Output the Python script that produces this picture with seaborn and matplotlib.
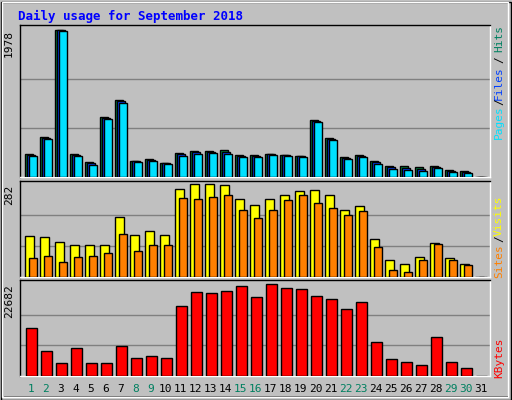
import numpy as np
import pandas as pd
import matplotlib
matplotlib.use("Agg")
import matplotlib.pyplot as plt
import seaborn as sns
from matplotlib.patches import Rectangle

days = list(range(1, 32))
hits = [313, 541, 1978, 313, 206, 810, 1038, 219, 246, 192, 327, 354, 354, 367, 300, 300,
        313, 300, 286, 761, 519, 273, 300, 219, 152, 152, 139, 152, 98, 85, 0]
files = [300, 528, 1970, 300, 186, 796, 1018, 212, 232, 186, 306, 333, 340, 340, 286, 286,
         306, 293, 280, 752, 510, 260, 286, 199, 132, 125, 112, 139, 85, 72, 0]
pages = [286, 515, 1965, 286, 166, 783, 998, 206, 219, 179, 286, 313, 327, 313, 273, 273,
         300, 286, 273, 743, 501, 246, 273, 179, 112, 98, 85, 125, 72, 58, 0]
visits = [126, 123, 108, 96, 96, 96, 184, 129, 141, 129, 267, 282, 282, 279, 236, 218,
          236, 251, 261, 264, 248, 203, 215, 117, 53, 41, 62, 102, 59, 41, 0]
sites = [59, 65, 47, 62, 65, 74, 132, 80, 96, 96, 239, 236, 242, 248, 203, 178,
         203, 233, 251, 224, 209, 190, 200, 90, 22, 16, 53, 99, 53, 35, 0]
kbytes = [11755, 6292, 3311, 7036, 3311, 3311, 7533, 4553, 5050, 4553, 17219, 20696,
          20448, 20945, 22186, 19455, 22682, 21690, 21441, 19703, 18958, 16474, 18213,
          8527, 4305, 3560, 2815, 9769, 3560, 2070, 0]
weekend = [1, 2, 8, 9, 15, 16, 22, 23, 29, 30]

sns.set_style("white")
plt.rcParams['font.family'] = ['DejaVu Sans Mono']

BG = "#C0C0C0"
W, H = 512, 400
fig = plt.figure(figsize=(5.12, 4.0), dpi=100, facecolor=BG)

def mkax(top, bottom):
    ax = fig.add_axes([20 / W, 1 - bottom / H, 470 / W, (bottom - top) / H])
    ax.set_facecolor(BG)
    return ax

idx = np.arange(31)
XL = (-0.353, 30.98)

def bars(ax, vals, off, width, color):
    df = pd.DataFrame({"x": idx + off + width / 2, "y": vals})
    sns.barplot(data=df, x="x", y="y", native_scale=True, width=width, color=color,
                edgecolor="black", linewidth=1, saturation=1, ax=ax, zorder=3)

def finish(ax, top, maxv, label):
    ax.set_xlim(*XL)
    ax.set_ylim(0, top)
    ax.set_yticks([maxv / 3, 2 * maxv / 3])
    ax.set_yticklabels([])
    ax.set_xticks([])
    ax.set_xlabel("")
    ax.set_ylabel("")
    ax.grid(axis="y", color="#808080", linewidth=1, zorder=0)
    ax.tick_params(length=0)
    for s in ["top", "left"]:
        ax.spines[s].set_color("black")
    for s in ["bottom", "right"]:
        ax.spines[s].set_color("white")
    for s in ax.spines.values():
        s.set_linewidth(1)
    ax.text(-0.013, maxv, label, transform=ax.get_yaxis_transform(), rotation=90,
            ha="right", va="top", fontsize=8, color="black")

ax1 = mkax(25, 177)
bars(ax1, hits, 0.0, 0.5, "#008040")
bars(ax1, files, 0.13, 0.5, "#0040FF")
bars(ax1, pages, 0.27, 0.5, "#00E0FF")
finish(ax1, 2040, 1978, "1978")

ax2 = mkax(180.7, 277)
bars(ax2, visits, 0.0, 0.58, "#FFFF00")
bars(ax2, sites, 0.25, 0.53, "#FF8000")
finish(ax2, 293, 282, "282")

ax3 = mkax(280.3, 376)
bars(ax3, kbytes, 0.07, 0.69, "#FF0000")
finish(ax3, 23675, 22682, "22682")

for d in days:
    x = 20 + 15 * (d - 1) + 5.3 + 5.5
    fig.text(x / W, 1 - 389 / H, str(d), ha="center", va="center", fontsize=8,
             color="#008060" if d in weekend else "black")

def rlabel(text, ycen, color):
    fig.text(499 / W, 1 - ycen / H, text, rotation=90, ha="center", va="center",
             fontsize=8, color=color)

rlabel("Hits", 38, "#008060")
rlabel("/", 60, "black")
rlabel("Files", 83, "#0040FF")
rlabel("/", 102, "black")
rlabel("Pages", 122, "#00E0FF")
rlabel("Visits", 216, "#FFFF00")
rlabel("/", 239, "black")
rlabel("Sites", 261, "#FF8000")
rlabel("KBytes", 358, "#FF0000")

fig.text(18 / W, 1 - 16 / H, "Daily usage for September 2018", ha="left", va="center",
         fontsize=9, fontweight="bold", color="#0000FF")

fig.patches.append(Rectangle((0.5 / W, 0.5 / H), 510 / W, 398 / H, transform=fig.transFigure,
                             fill=False, edgecolor="black", linewidth=1))
fig.patches.append(Rectangle((2 / W, 3 / H), 506 / W, 395 / H, transform=fig.transFigure,
                             fill=False, edgecolor="white", linewidth=1))
fig.patches.append(Rectangle((4 / W, 3 / H), 504 / W, 1.5 / H, transform=fig.transFigure,
                             facecolor="#808080", edgecolor="none"))

fig.savefig("out.png", dpi=100, facecolor=BG)
